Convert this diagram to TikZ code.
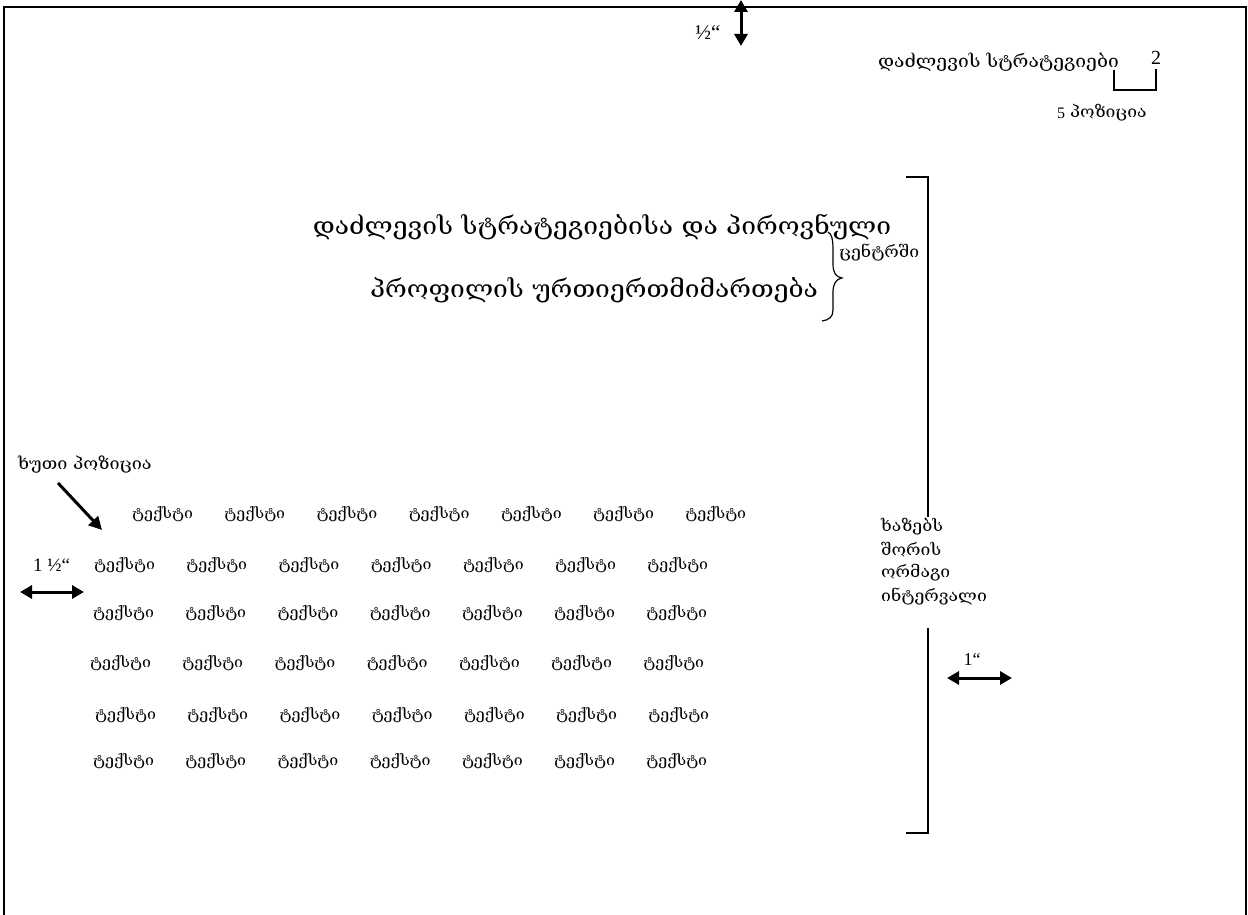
\documentclass[tikz,border=0pt]{standalone}
\usepackage{fontspec}
\setmainfont{Liberation Serif}
\newfontfamily\geo[FakeStretch=1.1]{DejaVu Serif}
\usetikzlibrary{arrows.meta}
\begin{document}
\begin{tikzpicture}[x=1pt,y=-1pt,
  frame/.style={line width=2.2pt},
  thin/.style={line width=1.4pt},
  bigarrow/.style={line width=3pt,{Triangle[width=13pt,length=12pt]}-{Triangle[width=13pt,length=12pt]}},
  onearrow/.style={line width=3pt,-{Triangle[width=13pt,length=13pt]}},
  word/.style={inner sep=0pt,anchor=west,font=\geo\fontsize{14.5}{15}\selectfont},
  title/.style={inner sep=0pt,font=\geo\fontsize{24}{24}\selectfont},
  small/.style={inner sep=0pt,anchor=west,font=\geo\fontsize{16}{16}\selectfont},
  latin/.style={inner sep=0pt,font=\fontsize{18}{18}\selectfont}]
\useasboundingbox (0,0) rectangle (1248,915);
% page frame
\draw[frame] (4,915) -- (4,7) -- (1246,7) -- (1246,915);
% top margin arrow
\coordinate (ta) at (741,0);
\coordinate (tb) at (741,46);
\draw[bigarrow] (ta) -- (tb);
\node[latin,font=\fontsize{21}{21}\selectfont] (half) at (708,33) {½“};
% header
\node[small,font=\geo\fontsize{17.5}{17.5}\selectfont] (hdr) at (878,62) {დაძლევის სტრატეგიები};
\node[latin,font=\fontsize{20}{20}\selectfont] (two) at (1156,58) {2};
\coordinate (b1) at (1114,70);
\coordinate (b2) at (1114,90);
\coordinate (b3) at (1156,90);
\coordinate (b4) at (1156,69);
\draw[thin] (b1) -- (b2) -- (b3) -- (b4);
\node[latin,anchor=west,font=\fontsize{16}{16}\selectfont] (five) at (1057,113) {5};
\node[small] (pos) at (1070,113) {პოზიცია};
% title
\node[title] (t1) at (602,227) {დაძლევის სტრატეგიებისა და პიროვნული};
\node[title] (t2) at (594,290) {პროფილის ურთიერთმიმართება};
\draw[line width=1.2pt] (828,232) .. controls (832,234) and (833,240) .. (833,250)
  -- (833,264) .. controls (833,273) and (836,277) .. (842,278)
  .. controls (836,279) and (833,284) .. (833,292)
  -- (833,310) .. controls (833,317) and (829,320) .. (822,321);
\node[small] (cen) at (839,253) {ცენტრში};
% right bracket
\coordinate (r1) at (906,177);
\coordinate (r2) at (928,177);
\coordinate (r3) at (928,517);
\coordinate (r4) at (928,628);
\coordinate (r5) at (928,833);
\coordinate (r6) at (906,833);
\draw[thin] (r1) -- (r2) -- (r3);
\draw[thin] (r4) -- (r5) -- (r6);
\node[small] (d1) at (881,527) {ხაზებს};
\node[small] (d2) at (881,550) {შორის};
\node[small] (d3) at (881,573) {ორმაგი};
\node[small] (d4) at (881,597) {ინტერვალი};
% right margin arrow
\node[latin] (one) at (972,660) {1“};
\coordinate (ra) at (947,678);
\coordinate (rb) at (1012,678);
\draw[bigarrow] (ra) -- (rb);
% left labels
\node[small,font=\geo\fontsize{16.4}{16.4}\selectfont] (five2) at (18,465) {ხუთი პოზიცია};
\coordinate (aa) at (58,483);
\coordinate (ab) at (102,530);
\draw[onearrow] (aa) -- (ab);
\node[latin,anchor=west,font=\fontsize{19}{19}\selectfont] (onehalf) at (33,565) {1 ½“};
\coordinate (la) at (20,592);
\coordinate (lb) at (84,592);
\draw[bigarrow] (la) -- (lb);
% text grid
\foreach \r/\yy/\xx in {1/514/132, 2/565/94, 3/613/93, 4/663/90, 5/715/95, 6/761/93} {
  \foreach \c in {0,...,6} {
    \node[word] (w\r-\c) at ({\xx+92.2*\c},\yy) {ტექსტი};
  }
}
\end{tikzpicture}
\end{document}
